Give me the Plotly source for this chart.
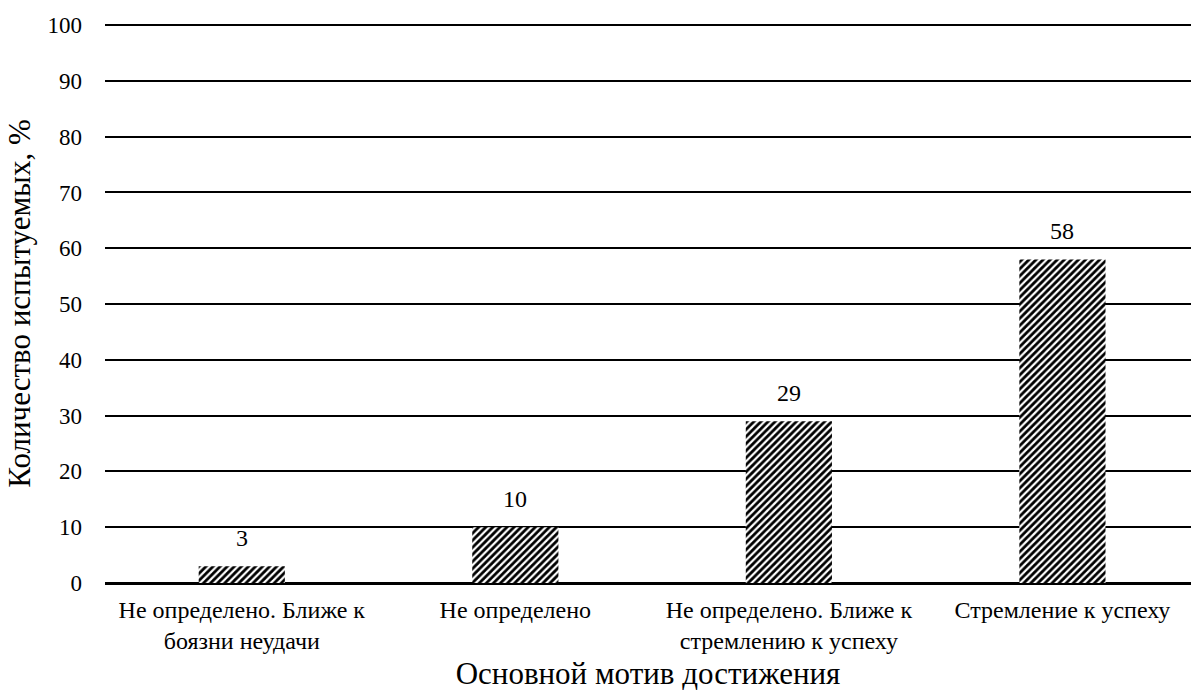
import plotly.graph_objects as go

categories = [
    "Не определено. Ближе к<br>боязни неудачи",
    "Не определено",
    "Не определено. Ближе к<br>стремлению к успеху",
    "Стремление к успеху",
]
values = [3, 10, 29, 58]
y_ticks = [0, 10, 20, 30, 40, 50, 60, 70, 80, 90, 100]

FONT = "Liberation Serif"
xs = list(range(len(categories)))

fig = go.Figure(
    go.Bar(
        x=xs,
        y=values,
        width=0.315,
        marker=dict(
            color="white",
            line=dict(width=0),
            pattern=dict(shape="/", fgcolor="black", bgcolor="white", fgopacity=1,
                         size=5, solidity=0.55),
        ),
        cliponaxis=False,
    )
)

# value labels above each bar
for x, v in zip(xs, values):
    fig.add_annotation(
        x=x, y=v, text=str(v), showarrow=False,
        xanchor="center", yanchor="bottom", yshift=13,
        font=dict(family=FONT, size=24, color="black"),
    )

fig.update_layout(
    width=1191,
    height=693,
    margin=dict(l=105, r=0, t=24, b=110),
    paper_bgcolor="white",
    plot_bgcolor="white",
    showlegend=False,
    font=dict(family=FONT, color="black"),
    xaxis=dict(
        range=[-0.5, 3.47],
        tickmode="array",
        tickvals=xs,
        ticktext=categories,
        tickfont=dict(family=FONT, size=24, color="black"),
        showgrid=False,
        ticks="",
        showline=False,
        zeroline=False,
        ticklabelstandoff=10,
        title=dict(text="Основной мотив достижения", font=dict(family=FONT, size=31, color="black"), standoff=9),
    ),
    yaxis=dict(
        range=[0, 100.2],
        tickmode="array",
        tickvals=y_ticks,
        tickfont=dict(family=FONT, size=23, color="black"),
        showgrid=True,
        gridcolor="black",
        gridwidth=2,
        zeroline=True,
        zerolinecolor="black",
        zerolinewidth=3,
        ticks="",
        ticklabelstandoff=22,
        title=dict(text="Количество испытуемых, %", font=dict(family=FONT, size=31, color="black"), standoff=7),
    ),
)

fig.write_html("out.html")
